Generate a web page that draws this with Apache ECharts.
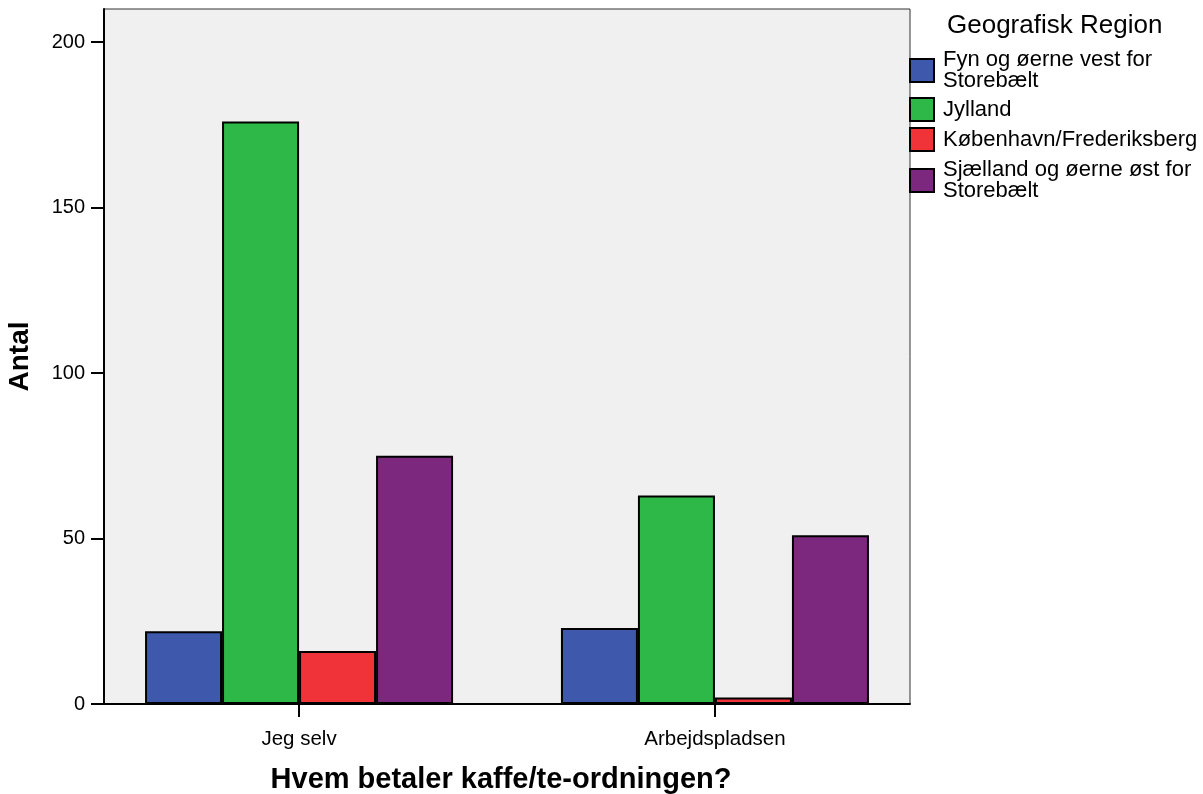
<!DOCTYPE html>
<html>
<head>
<meta charset="utf-8">
<script src="https://cdn.jsdelivr.net/npm/echarts@6/dist/echarts.min.js"></script>
<style>
html,body{margin:0;padding:0;background:#fff;}
#chart{width:1203px;height:794px;}
</style>
</head>
<body>
<div id="chart"></div>
<script>
// ---- data ----
const categories = ['Jeg selv', 'Arbejdspladsen'];
const seriesNames = ['Fyn og øerne vest for Storebælt', 'Jylland', 'København/Frederiksberg', 'Sjælland og øerne øst for Storebælt'];
const legendLabels = ['Fyn og øerne vest for\nStorebælt', 'Jylland', 'København/Frederiksberg', 'Sjælland og øerne øst for\nStorebælt'];
const fynValues = [22, 23];
const jyllandValues = [176, 63];
const kbhValues = [16, 2];
const sjaellandValues = [75, 51];
const yTicks = [0, 50, 100, 150, 200];
const xTitle = 'Hvem betaler kaffe/te-ordningen?';
const yTitle = 'Antal';
const legendTitle = 'Geografisk Region';

const colors = ['#3e58ac', '#2eb848', '#ef3338', '#7b287e'];
const allValues = [fynValues, jyllandValues, kbhValues, sjaellandValues];
const catIdx = categories.map((c, i) => i);

const FONT = '"Liberation Sans", Arial, Helvetica, sans-serif';

const chart = echarts.init(document.getElementById('chart'), null, {renderer: 'canvas'});

const legendTops = [49, 97, 127, 159];
const legends = seriesNames.map((n, i) => ({
  data: [n],
  orient: 'vertical',
  left: 909,
  top: legendTops[i],
  itemWidth: 24,
  itemHeight: 23,
  itemGap: 0,
  padding: 0,
  icon: 'rect',
  selectedMode: false,
  itemStyle: {borderColor: '#000', borderWidth: 2},
  formatter: (name) => legendLabels[seriesNames.indexOf(name)],
  textStyle: {fontFamily: FONT, fontSize: 22, lineHeight: 21, color: '#000', padding: [0, 0, 0, 4]}
}));

const option = {
  animation: false,
  backgroundColor: '#fff',
  title: {
    text: legendTitle,
    left: 947,
    top: 13,
    padding: 0,
    textStyle: {fontFamily: FONT, fontSize: 26, fontWeight: 'normal', color: '#000'}
  },
  legend: legends,
  grid: {
    left: 104, top: 9, right: 293, bottom: 90,
    outerBoundsMode: 'none',
    containLabel: false,
    show: true,
    backgroundColor: '#f0f0f0',
    borderColor: '#333',
    borderWidth: 1
  },
  xAxis: {
    type: 'value',
    min: -0.469,
    max: 1.469,
    name: xTitle,
    nameLocation: 'middle',
    nameGap: 61,
    nameTextStyle: {fontFamily: FONT, fontSize: 29, fontWeight: 'bold', color: '#000', padding: [0, 12, 0, 0]},
    axisLine: {show: true, onZero: false, lineStyle: {color: '#000', width: 2}},
    axisTick: {show: true, inside: false, length: 13, lineStyle: {color: '#000', width: 2}, customValues: catIdx},
    axisLabel: {
      customValues: catIdx,
      margin: 25,
      fontFamily: FONT, fontSize: 20.5, color: '#000',
      formatter: (v) => categories[Math.round(v)]
    },
    splitLine: {show: false}
  },
  yAxis: {
    type: 'value',
    min: 0,
    max: 210,
    name: yTitle,
    nameLocation: 'middle',
    nameGap: 70,
    nameTextStyle: {fontFamily: FONT, fontSize: 28, fontWeight: 'bold', color: '#000'},
    axisLine: {show: true, onZero: false, lineStyle: {color: '#000', width: 2}},
    axisTick: {show: true, inside: false, length: 13, lineStyle: {color: '#000', width: 2}, customValues: yTicks},
    axisLabel: {customValues: yTicks, margin: 19, fontFamily: FONT, fontSize: 20, color: '#000'},
    splitLine: {show: false}
  },
  series: seriesNames.map((n, i) => ({
    name: n,
    type: 'bar',
    barWidth: 77,
    barGap: '0%',
    data: allValues[i].map((v, j) => [catIdx[j], v]),
    itemStyle: {color: colors[i], borderColor: '#000', borderWidth: 2}
  }))
};
chart.setOption(option);
</script>
</body>
</html>
